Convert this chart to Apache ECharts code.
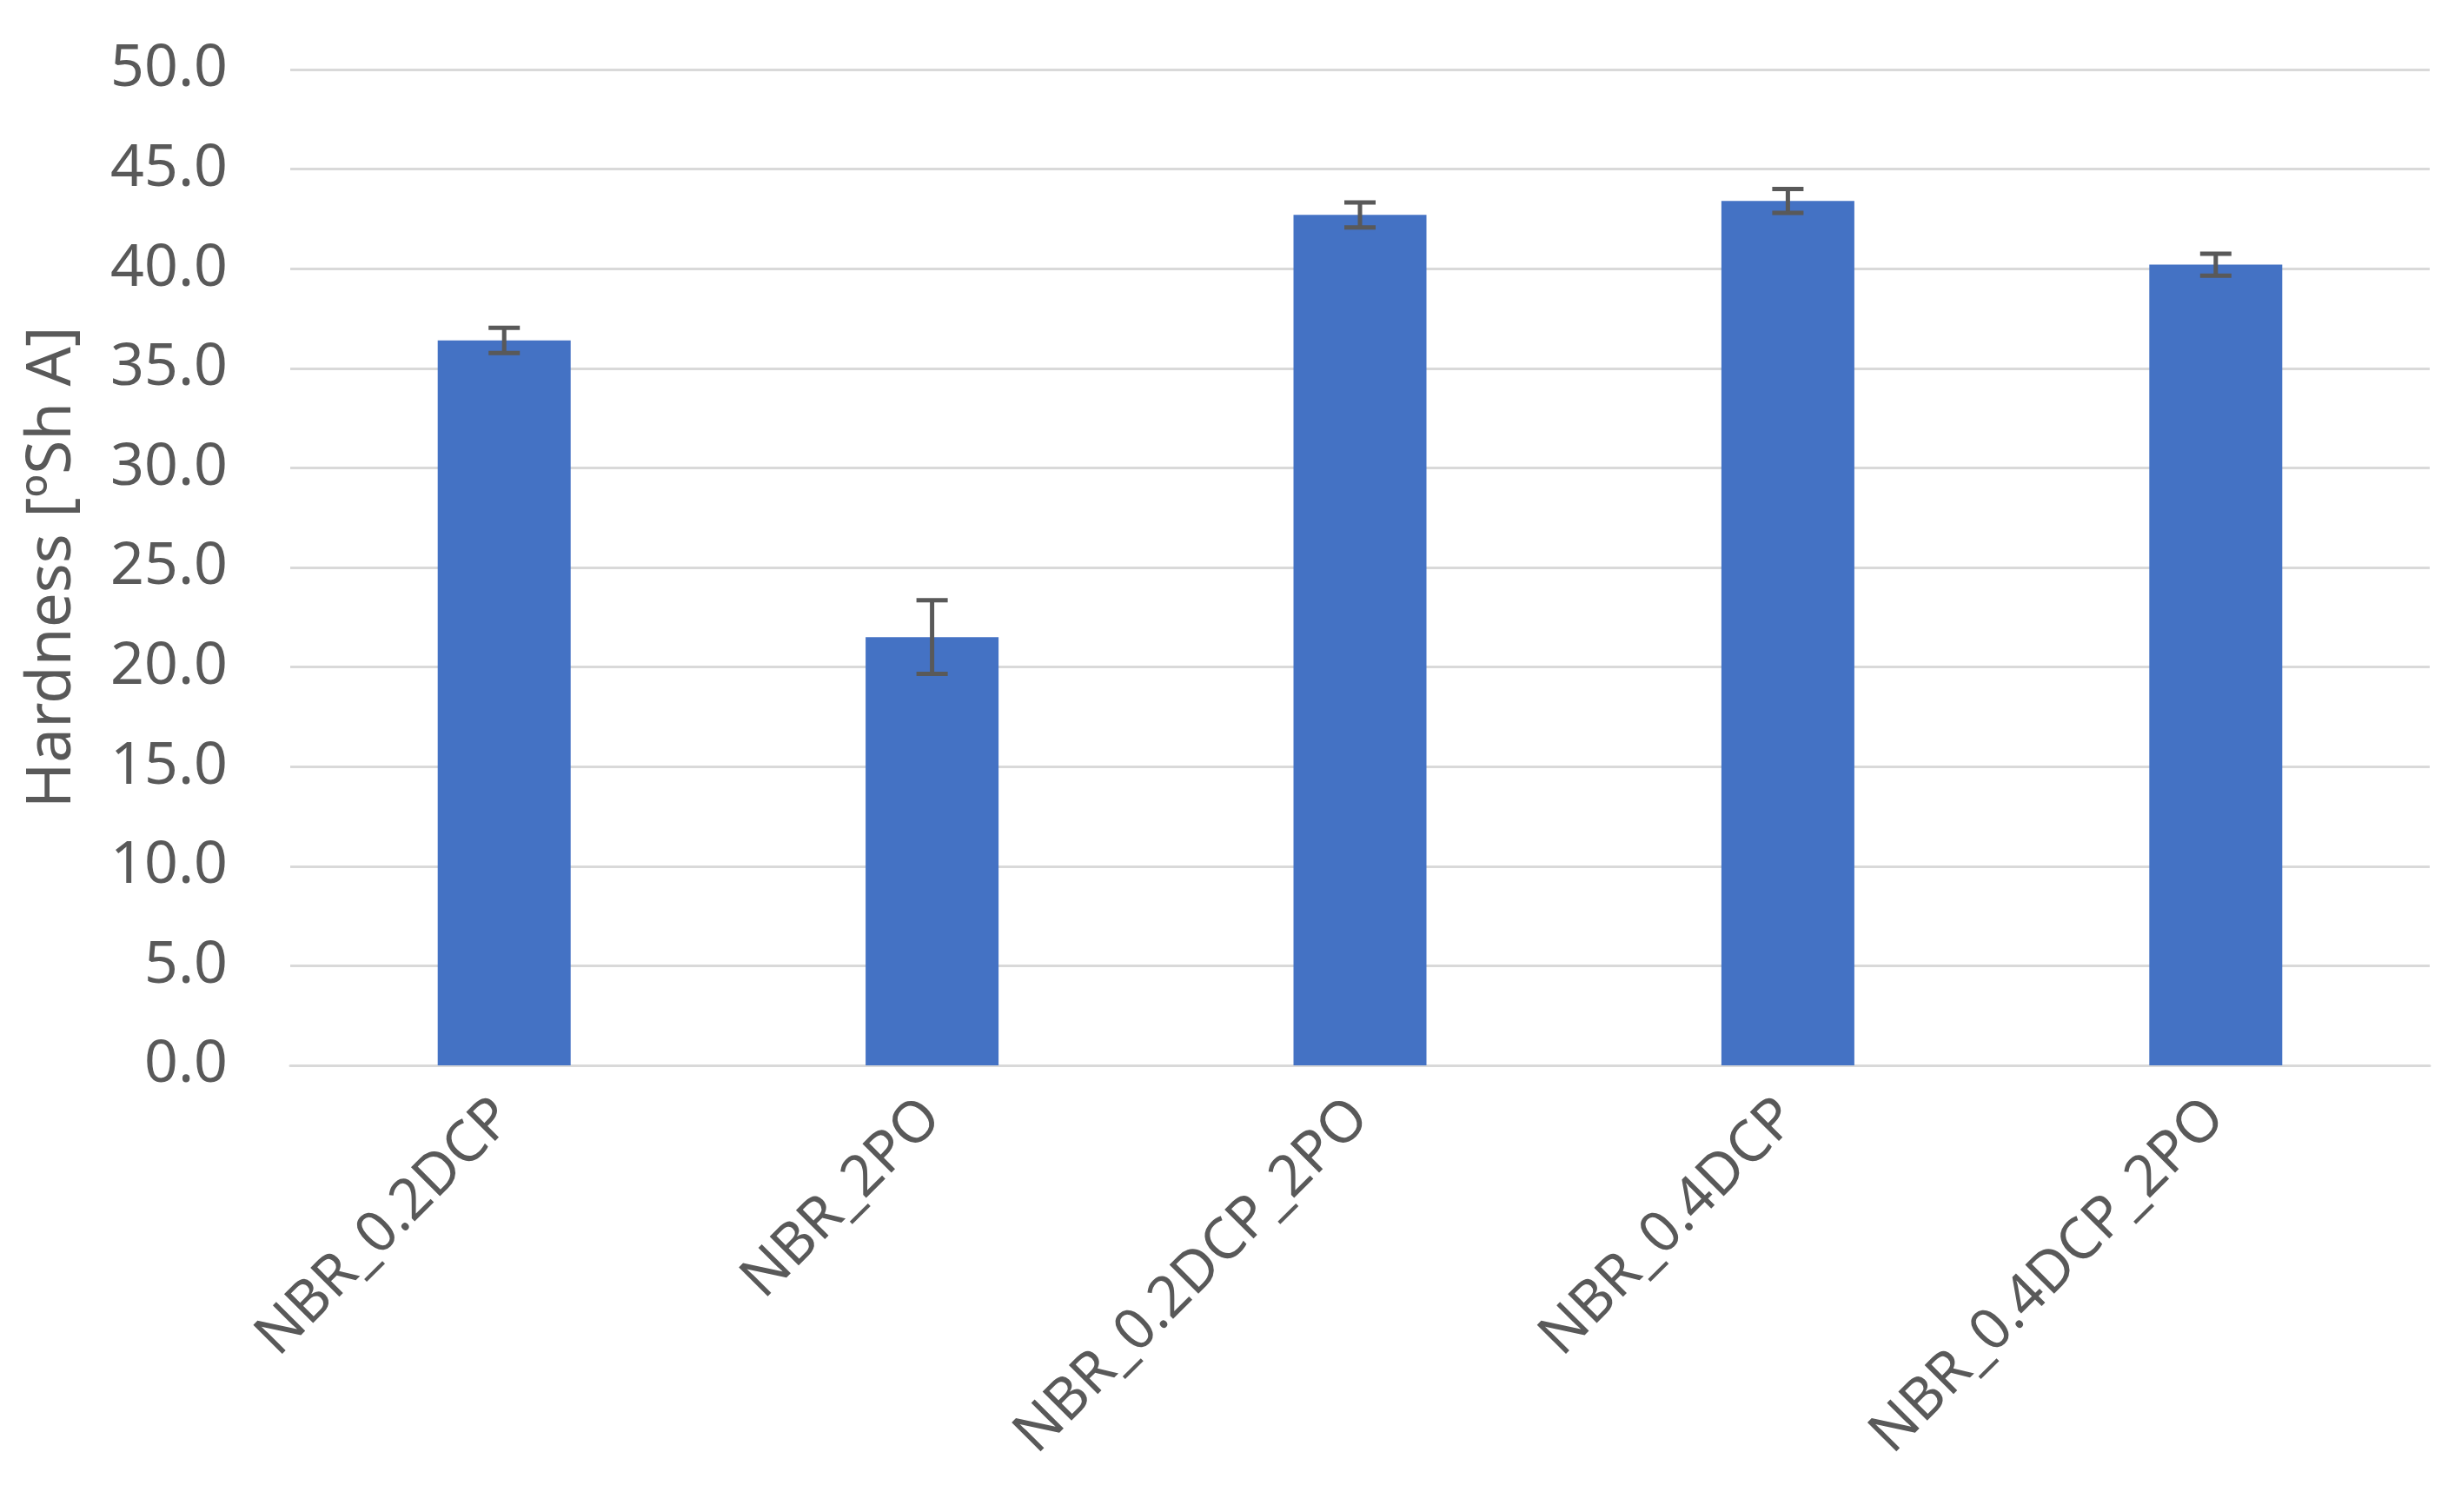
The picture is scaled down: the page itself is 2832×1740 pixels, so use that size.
<!DOCTYPE html>
<html>
<head>
<meta charset="utf-8">
<script src="https://cdn.jsdelivr.net/npm/echarts@6/dist/echarts.min.js"></script>
<style>
html,body{margin:0;padding:0;background:#fff;}
#c{width:2832px;height:1740px;}
</style>
</head>
<body>
<div id="c"></div>
<script>
const categories = ['NBR_0.2DCP', 'NBR_2PO', 'NBR_0.2DCP_2PO', 'NBR_0.4DCP', 'NBR_0.4DCP_2PO'];
const hardness = [36.4, 21.5, 42.7, 43.4, 40.2];
const errors = [0.63, 1.85, 0.63, 0.6, 0.55];
const yTicks = { min: 0, max: 50, interval: 5 };

const FONT = 'Noto Sans';
const TXT = '#595959';

const chart = echarts.init(document.getElementById('c'), null, { renderer: 'canvas' });
chart.setOption({
  animation: false,
  backgroundColor: '#ffffff',
  grid: { left: 334, right: 36, top: 80, bottom: 514, containLabel: false },
  xAxis: {
    type: 'category',
    data: categories,
    axisLine: { show: true, lineStyle: { color: '#d9d9d9', width: 3 } },
    axisTick: { show: false },
    axisLabel: {
      rotate: 45, margin: 50, color: TXT, fontFamily: FONT, fontSize: 66,
      interval: 0
    }
  },
  yAxis: {
    type: 'value',
    min: yTicks.min, max: yTicks.max, interval: yTicks.interval,
    name: 'Hardness [ºSh A]',
    nameLocation: 'middle',
    nameGap: 238,
    nameRotate: 90,
    nameTextStyle: { color: TXT, fontFamily: FONT, fontSize: 71 },
    axisLine: { show: false },
    axisTick: { show: false },
    axisLabel: {
      margin: 72, color: TXT, fontFamily: FONT, fontSize: 68,
      formatter: v => v.toFixed(1)
    },
    splitLine: { lineStyle: { color: '#d9d9d9', width: 3 } }
  },
  series: [
    {
      type: 'bar',
      data: hardness,
      barWidth: 153,
      itemStyle: { color: '#4472C4' }
    },
    {
      type: 'custom',
      data: hardness.map((v, i) => [i, v - errors[i], v + errors[i]]),
      encode: { x: 0, y: [1, 2] },
      z: 10,
      renderItem: function (params, api) {
        const x = api.value(0);
        const lo = api.coord([x, api.value(1)]);
        const hi = api.coord([x, api.value(2)]);
        const hw = 18;
        const style = { stroke: '#595959', lineWidth: 5 };
        return {
          type: 'group',
          children: [
            { type: 'line', shape: { x1: hi[0], y1: hi[1], x2: lo[0], y2: lo[1] }, style },
            { type: 'line', shape: { x1: hi[0] - hw, y1: hi[1], x2: hi[0] + hw, y2: hi[1] }, style },
            { type: 'line', shape: { x1: lo[0] - hw, y1: lo[1], x2: lo[0] + hw, y2: lo[1] }, style }
          ]
        };
      }
    }
  ]
});
</script>
</body>
</html>
